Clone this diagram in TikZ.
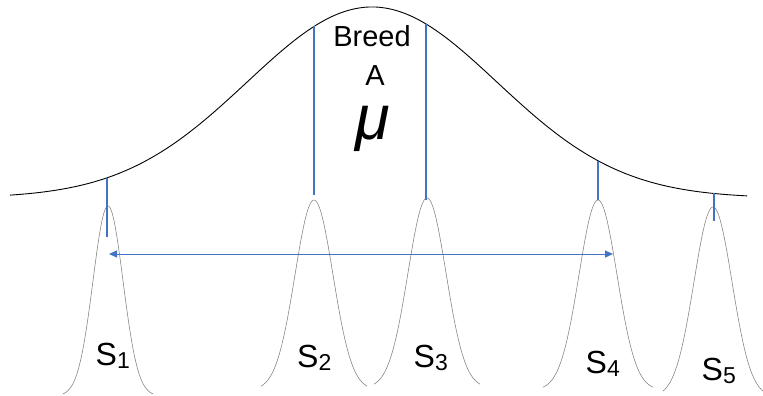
\documentclass[tikz,border=0pt]{standalone}
\usepackage{fontspec}
\setmainfont{Liberation Sans}
\definecolor{breedblue}{RGB}{68,114,196}
\definecolor{peakgray}{RGB}{135,135,135}
\usetikzlibrary{arrows.meta}
\tikzset{
  mark line/.style={line width=1.8pt, breedblue},
  sample curve/.style={peakgray, line width=0.6pt, samples=90, smooth},
  sample label/.style={font=\fontsize{32}{32}\selectfont, anchor=base west, inner sep=0pt},
}
\newcommand{\samplename}[1]{S\raisebox{-3.3pt}{\fontsize{23}{23}\selectfont #1}}

\begin{document}
\begin{tikzpicture}[x=1pt, y=-1pt,
  declare function={breedy(\x)=198-191*exp(-0.5*((\x-372)/125)^2);
    sampy(\x,\c,\p,\s)=\p+190*(1-exp(-0.5*((\x-\c)/\s)^2));}]
  \useasboundingbox (0,0) rectangle (763,396);

  %--- breed curve ---
  \draw[line width=0.9pt, black, smooth] plot[domain=10:747, samples=150] (\x,{breedy(\x)});
  \node[font=\fontsize{29}{29}\selectfont, anchor=base, inner sep=0pt] (breed) at (372,47) {Breed};
  \node[font=\fontsize{29}{29}\selectfont, anchor=base, inner sep=0pt] (breedA) at (375,85) {A};
  \node[font=\fontsize{63}{63}\selectfont\itshape, anchor=base, inner sep=0pt] (mu) at (373,139) {μ};

  %--- sample curves ---
  \foreach \c/\p/\s/\w in {108/206/15/45, 314/200/19/53, 427/198/19/53, 598/200/19/55, 713/207/19/50}
    \draw[sample curve, domain=\c-\w:\c+\w] plot (\x,{sampy(\x,\c,\p,\s)});

  %--- marks from breed curve to sample peaks ---
  \foreach \i/\c/\e in {1/107/237, 2/314/195, 3/426/200, 4/598/200, 5/714/221} {
    \coordinate (top\i) at (\c,{breedy(\c)});
    \coordinate (foot\i) at (\c,\e);
    \draw[mark line] (top\i) -- (foot\i);
  }

  %--- spread arrow ---
  \coordinate (spreadL) at (109,254);
  \coordinate (spreadR) at (613,254);
  \draw[breedblue, line width=1pt, {Triangle[length=8pt,width=7pt]}-{Triangle[length=8pt,width=7pt]}] (spreadL) -- (spreadR);

  %--- sample labels ---
  \node[sample label] (s1) at (95.5,365) {\samplename{1}};
  \node[sample label] (s2) at (297,367) {\samplename{2}};
  \node[sample label] (s3) at (413.5,367) {\samplename{3}};
  \node[sample label] (s4) at (585.5,373) {\samplename{4}};
  \node[sample label] (s5) at (701.5,380) {\samplename{5}};
\end{tikzpicture}
\end{document}
